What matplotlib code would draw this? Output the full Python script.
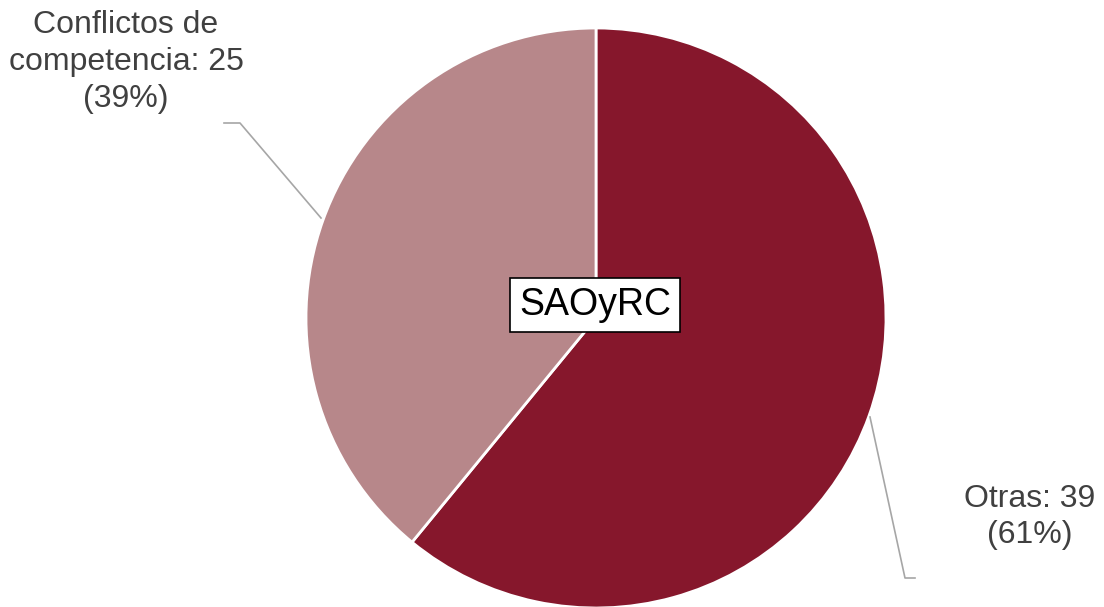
import matplotlib.pyplot as plt

plt.rcParams['font.family'] = ['Liberation Sans', 'DejaVu Sans']

labels = ["Otras", "Conflictos de\ncompetencia"]
values = [39, 25]
colors = ["#86172C", "#B7878A"]
title = "SAOyRC"

W, H = 1104, 607
fig = plt.figure(figsize=(W / 100, H / 100), dpi=100)
ax = fig.add_axes([0, 0, 1, 1])

cx, cy, r = 596, H - 318, 290
ax.pie(values, colors=colors, startangle=90, counterclock=False,
       center=(cx, cy), radius=r, frame=True,
       wedgeprops=dict(edgecolor="white", linewidth=2))
ax.set_xlim(0, W)
ax.set_ylim(0, H)
ax.axis("off")

total = sum(values)
pct = [round(v * 100 / total) for v in values]
txt_col = "#404040"

# Otras label + leader line
ax.plot([870, 905, 915], [H - 417, H - 578, H - 578], color="#A6A6A6", lw=1.2)
ax.text(1030, H - 517, "%s: %d\n(%d%%)" % (labels[0], values[0], pct[0]),
        ha="center", va="center", fontsize=23, color=txt_col, linespacing=1.3)

# Conflictos label + leader line
ax.plot([321, 240, 224], [H - 218, H - 123, H - 123], color="#A6A6A6", lw=1.2)
ax.text(126, H - 62, "%s: %d\n(%d%%)" % (labels[1], values[1], pct[1]),
        ha="center", va="center", fontsize=23, color=txt_col, linespacing=1.3)

ax.text(595, H - 305, title, ha="center", va="center", fontsize=27, color="black",
        bbox=dict(boxstyle="square,pad=0.25", facecolor="white", edgecolor="black", lw=1.2))

fig.savefig("out.png", dpi=100)
